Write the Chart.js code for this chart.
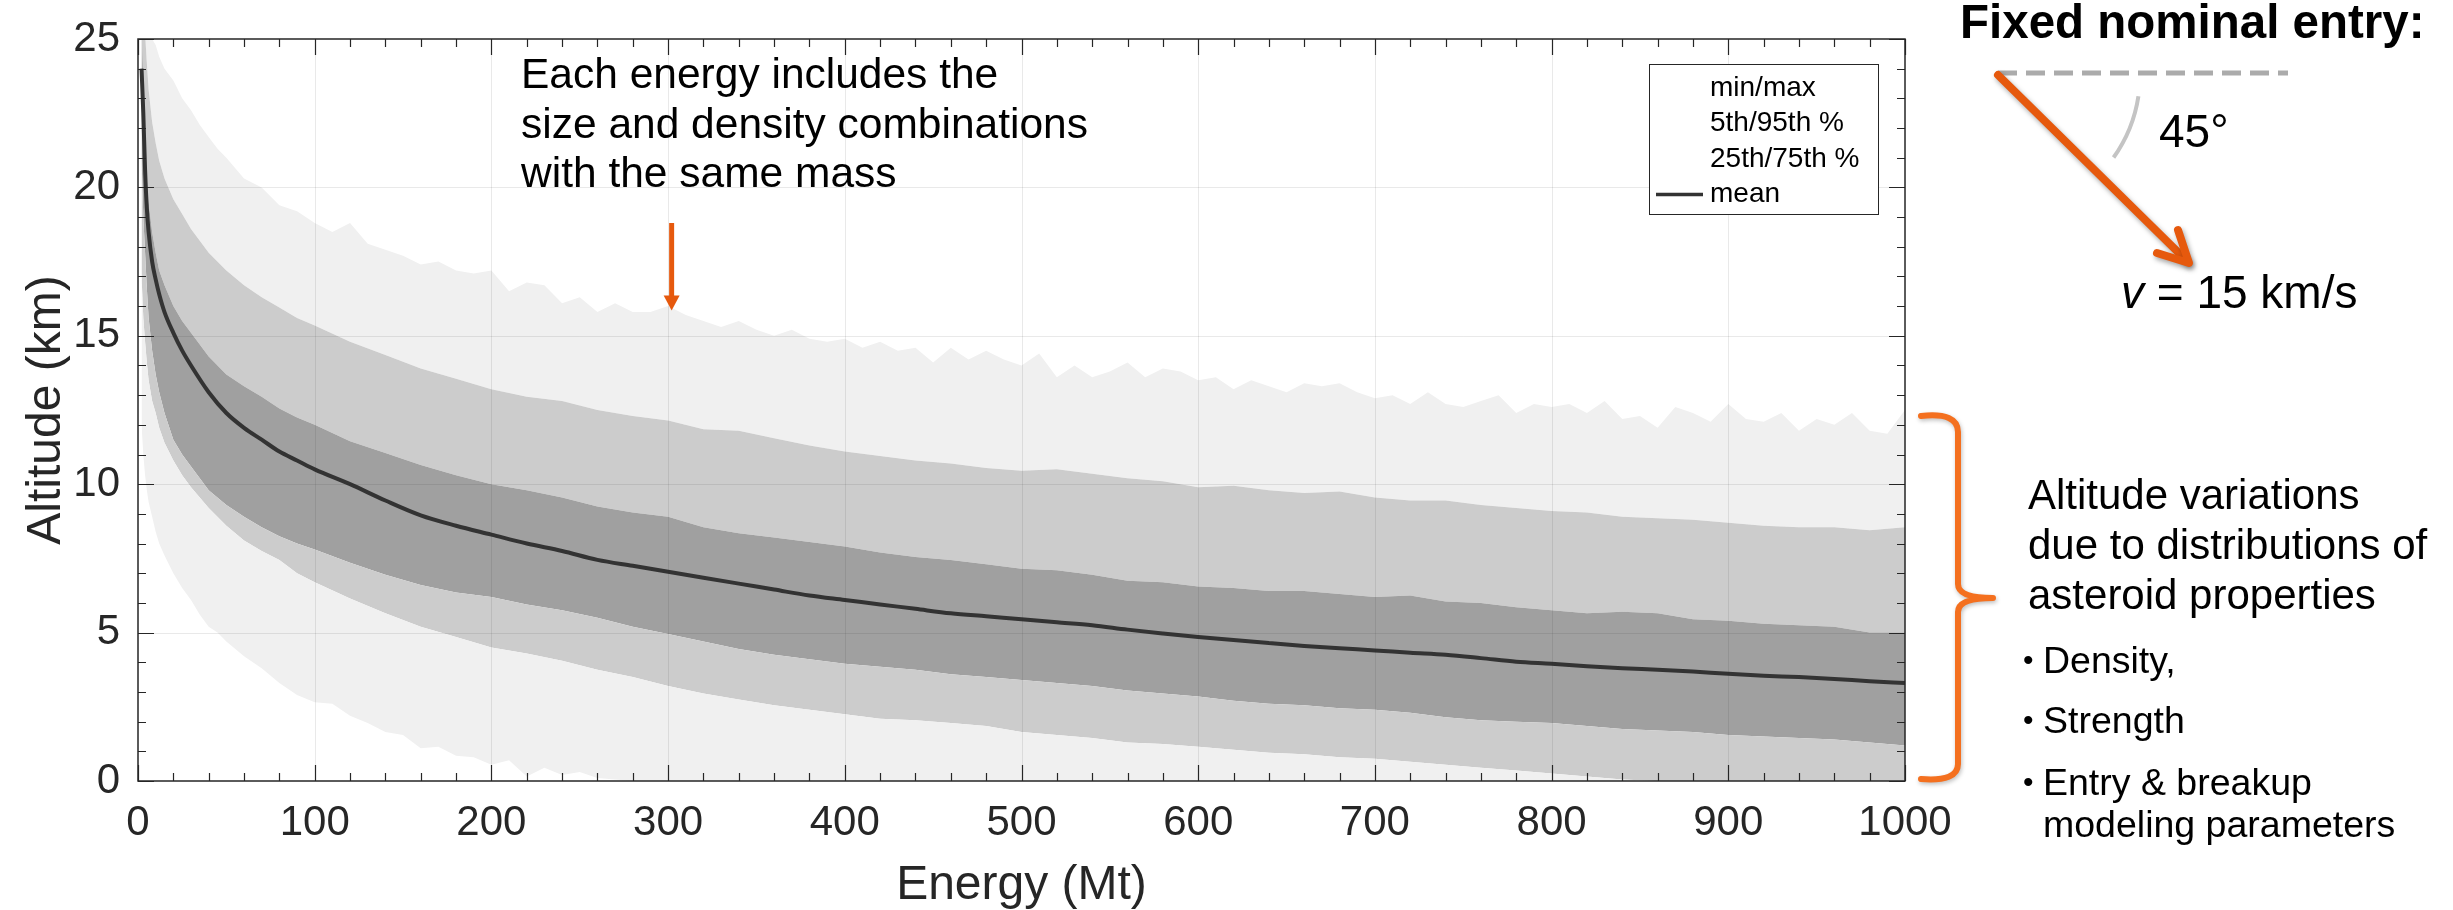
<!DOCTYPE html>
<html>
<head>
<meta charset="utf-8">
<script src="https://cdn.jsdelivr.net/npm/chart.js@4.4.1/dist/chart.umd.min.js"></script>
<style>
  html, body { margin: 0; padding: 0; background: #fff; }
</style>
</head>
<body>
<canvas id="chart" width="2453" height="910"></canvas>
<script>
// energies (Mt) for the jagged min / max envelope
const energyFine = [
  2, 3, 4, 5, 6, 8, 10, 12, 15, 20,
  25, 30, 35, 40, 45, 50, 60, 70, 80, 90,
  100, 110, 120, 130, 140, 150, 160, 170, 180, 190,
  200, 210, 220, 230, 240, 250, 260, 270, 280, 290,
  300, 310, 320, 330, 340, 350, 360, 370, 380, 390,
  400, 410, 420, 430, 440, 450, 460, 470, 480, 490,
  500, 510, 520, 530, 540, 550, 560, 570, 580, 590,
  600, 610, 620, 630, 640, 650, 660, 670, 680, 690,
  700, 710, 720, 730, 740, 750, 760, 770, 780, 790,
  800, 810, 820, 830, 840, 850, 860, 870, 880, 890,
  900, 910, 920, 930, 940, 950, 960, 970, 980, 990,
  1000,
];
const maxAlt = [
  30, 29, 27, 25.6, 25.3, 25.0, 24.8, 24.4, 24.0, 23.6,
  23.0, 22.6, 22.1, 21.7, 21.3, 21.0, 20.3, 20.0, 19.4, 19.2,
  18.8, 18.5, 18.8, 18.1, 17.9, 17.7, 17.4, 17.5, 17.2, 17.1,
  17.2, 16.5, 16.8, 16.7, 16.1, 16.3, 15.8, 16.1, 15.8, 15.8,
  16.0, 15.7, 15.5, 15.3, 15.5, 15.2, 15.0, 15.2, 14.9, 14.8,
  14.9, 14.6, 14.8, 14.5, 14.6, 14.1, 14.6, 14.2, 14.5, 14.2,
  14.0, 14.4, 13.6, 14.0, 13.6, 13.8, 14.1, 13.6, 13.9, 13.8,
  13.5, 13.6, 13.2, 13.5, 13.3, 13.1, 13.4, 13.3, 13.4, 13.1,
  12.9, 13.0, 12.7, 13.1, 12.7, 12.6, 12.8, 13.0, 12.4, 12.7,
  12.6, 12.7, 12.4, 12.8, 12.2, 12.3, 11.9, 12.6, 12.4, 12.1,
  12.7, 12.2, 12.1, 12.4, 11.8, 12.2, 12.0, 12.4, 11.8, 11.7,
  12.5,
];
const minAlt = [
  12.0, 11.0, 10.3, 9.8, 9.4, 8.9, 8.4, 8.0, 7.6, 7.0,
  6.5, 6.1, 5.6, 5.2, 5.0, 4.7, 4.2, 3.8, 3.3, 2.9,
  2.65, 2.6, 2.2, 1.95, 1.65, 1.55, 1.1, 1.15, 0.85, 0.8,
  0.55, 0.7, 0.15, 0.45, 0.2, 0.3, 0.1, 0.05, 0, 0,
  0, 0, 0, 0, 0, 0, 0, 0, 0, 0,
  0, 0, 0, 0, 0, 0, 0, 0, 0, 0,
  0, 0, 0, 0, 0, 0, 0, 0, 0, 0,
  0, 0, 0, 0, 0, 0, 0, 0, 0, 0,
  0, 0, 0, 0, 0, 0, 0, 0, 0, 0,
  0, 0, 0, 0, 0, 0, 0, 0, 0, 0,
  0, 0, 0, 0, 0, 0, 0, 0, 0, 0,
  0,
];

// energies (Mt) for the smoother percentile curves and the mean
const energyCoarse = [
  2, 3, 4, 5, 6, 8, 10, 12, 15, 20,
  25, 30, 40, 50, 60, 70, 80, 90, 100, 120,
  140, 160, 180, 200, 220, 240, 260, 280, 300, 320,
  340, 360, 380, 400, 420, 440, 460, 480, 500, 520,
  540, 560, 580, 600, 620, 640, 660, 680, 700, 720,
  740, 760, 780, 800, 820, 840, 860, 880, 900, 920,
  940, 960, 980, 1000,
];
const p95Alt = [
  27, 26, 25.2, 24.2, 23.3, 22.2, 21.5, 20.9, 20.3, 19.6,
  19.1, 18.6, 17.8, 17.2, 16.7, 16.3, 15.95, 15.6, 15.35, 14.8,
  14.35, 13.9, 13.55, 13.2, 12.95, 12.8, 12.5, 12.3, 12.15, 11.85,
  11.8, 11.55, 11.3, 11.1, 10.95, 10.8, 10.7, 10.55, 10.45, 10.5,
  10.35, 10.2, 10.1, 9.9, 9.95, 9.8, 9.7, 9.75, 9.55, 9.45,
  9.45, 9.3, 9.2, 9.1, 9.05, 8.9, 8.85, 8.8, 8.7, 8.6,
  8.55, 8.55, 8.45, 8.55,
];
const p75Alt = [
  25.5, 23.5, 21.5, 20.3, 19.5, 18.5, 17.8, 17.2, 16.7, 16.0,
  15.5, 15.1, 14.3, 13.7, 13.3, 12.95, 12.55, 12.25, 12.0, 11.45,
  11.05, 10.65, 10.3, 10.0, 9.8, 9.55, 9.25, 9.05, 8.9, 8.55,
  8.35, 8.2, 8.05, 7.9, 7.7, 7.55, 7.45, 7.3, 7.15, 7.1,
  6.95, 6.75, 6.7, 6.55, 6.5, 6.4, 6.4, 6.3, 6.2, 6.25,
  6.05, 6.0, 5.85, 5.75, 5.65, 5.7, 5.65, 5.45, 5.4, 5.3,
  5.25, 5.2, 5.0, 5.0,
];
const meanAlt = [
  24.0, 22.5, 20.6, 19.3, 18.5, 17.5, 16.9, 16.4, 15.8, 15.1,
  14.5, 14.0, 13.1, 12.4, 11.9, 11.5, 11.1, 10.8, 10.5, 10.0,
  9.45, 8.95, 8.6, 8.3, 8.0, 7.75, 7.45, 7.25, 7.05, 6.85,
  6.65, 6.45, 6.25, 6.1, 5.95, 5.8, 5.65, 5.55, 5.45, 5.35,
  5.25, 5.1, 4.97, 4.85, 4.75, 4.65, 4.55, 4.47, 4.4, 4.32,
  4.25, 4.14, 4.02, 3.95, 3.87, 3.8, 3.75, 3.69, 3.61, 3.55,
  3.5, 3.44, 3.36, 3.3,
];
const p25Alt = [
  21.0, 19.0, 17.8, 16.6, 15.6, 14.5, 13.7, 13.1, 12.4, 11.5,
  11.0, 10.6, 9.8, 9.3, 8.9, 8.55, 8.25, 8.0, 7.8, 7.35,
  6.95, 6.6, 6.35, 6.2, 5.95, 5.75, 5.5, 5.2, 4.95, 4.7,
  4.45, 4.25, 4.1, 3.95, 3.85, 3.75, 3.6, 3.5, 3.4, 3.3,
  3.2, 3.05, 2.95, 2.85, 2.7, 2.6, 2.55, 2.45, 2.4, 2.3,
  2.15, 2.05, 2.0, 1.95, 1.85, 1.75, 1.7, 1.65, 1.55, 1.5,
  1.45, 1.4, 1.3, 1.2,
];
const p5Alt = [
  17.0, 15.6, 14.8, 14.1, 13.5, 12.8, 12.4, 11.9, 11.4, 10.8,
  10.3, 9.9, 9.2, 8.6, 8.1, 7.75, 7.45, 7.0, 6.7, 6.15,
  5.65, 5.2, 4.85, 4.5, 4.3, 4.05, 3.75, 3.5, 3.2, 2.95,
  2.75, 2.55, 2.4, 2.25, 2.1, 2.05, 1.95, 1.85, 1.65, 1.55,
  1.45, 1.3, 1.25, 1.15, 1.05, 0.95, 0.9, 0.8, 0.75, 0.65,
  0.55, 0.45, 0.35, 0.25, 0.15, 0.05, 0, 0, 0, 0,
  0, 0, 0, 0,
];

const legendLabels = ['min/max', '5th/95th %', '25th/75th %', 'mean'];
const noteLines = ['Each energy includes the', 'size and density combinations', 'with the same mass'];
const noteEnergy = 302;
const entryTitle = 'Fixed nominal entry:';
const angleLabel = '45°';
const speedVar = 'v';
const speedText = ' = 15 km/s';
const spreadLines = ['Altitude variations', 'due to distributions of', 'asteroid properties'];
const factorLines = ['Density,', 'Strength', 'Entry & breakup', 'modeling parameters'];

const FONT = '"Liberation Sans", Arial, Helvetica, sans-serif';
const INK = '#262626';
const ORANGE = '#e6590d';
const BRACE = '#f4701f';

const pts = (xs, ys) => xs.map((x, i) => ({ x, y: ys[i] }));

const band = (label, xs, ys, color) => ({
  label,
  data: pts(xs, ys),
  borderColor: 'transparent',
  borderWidth: 0,
  backgroundColor: color,
  fill: '-1',
  pointRadius: 0,
  tension: 0,
});

// grid on top of the bands, MATLAB style box and inward ticks
const axisFrame = {
  id: 'axisFrame',
  afterDatasetsDraw: chart => {
    const { ctx, chartArea: a, scales: { x, y } } = chart;
    ctx.save();
    ctx.lineWidth = 1;
    ctx.strokeStyle = 'rgba(38, 38, 38, 0.1)';
    ctx.beginPath();
    for (let v = 100; v < 1000; v += 100) {
      const px = Math.round(x.getPixelForValue(v)) + 0.5;
      ctx.moveTo(px, a.top);
      ctx.lineTo(px, a.bottom);
    }
    for (let v = 5; v < 25; v += 5) {
      const py = Math.round(y.getPixelForValue(v)) + 0.5;
      ctx.moveTo(a.left, py);
      ctx.lineTo(a.right, py);
    }
    ctx.stroke();

    ctx.strokeStyle = INK;
    ctx.lineWidth = 1.2;
    ctx.beginPath();
    for (let v = 0; v <= 1000; v += 20) {
      const px = Math.round(x.getPixelForValue(v)) + 0.5;
      const len = v % 100 === 0 ? 16 : 8;
      ctx.moveTo(px, a.bottom);
      ctx.lineTo(px, a.bottom - len);
      ctx.moveTo(px, a.top);
      ctx.lineTo(px, a.top + len);
    }
    for (let v = 0; v <= 25; v += 1) {
      const py = Math.round(y.getPixelForValue(v)) + 0.5;
      const len = v % 5 === 0 ? 16 : 8;
      ctx.moveTo(a.left, py);
      ctx.lineTo(a.left + len, py);
      ctx.moveTo(a.right, py);
      ctx.lineTo(a.right - len, py);
    }
    ctx.stroke();
    ctx.lineWidth = 1.5;
    ctx.strokeRect(a.left, a.top, a.right - a.left, a.bottom - a.top);
    ctx.restore();
  },
};

// legend box and the slide annotations
const notes = {
  id: 'notes',
  afterDraw: chart => {
    const { ctx, chartArea: a, scales: { x, y } } = chart;
    ctx.save();

    // legend inside the axes
    const lx = a.right - 256, ly = a.top + 25, lw = 229, lh = 150;
    ctx.fillStyle = '#fff';
    ctx.fillRect(lx, ly, lw, lh);
    ctx.strokeStyle = INK;
    ctx.lineWidth = 1;
    ctx.strokeRect(lx + 0.5, ly + 0.5, lw, lh);
    ctx.font = `28px ${FONT}`;
    ctx.fillStyle = '#000';
    ctx.textBaseline = 'middle';
    legendLabels.forEach((t, i) => ctx.fillText(t, lx + 61, ly + 24 + i * 35.5));
    ctx.strokeStyle = '#333';
    ctx.lineWidth = 3.5;
    ctx.beginPath();
    ctx.moveTo(lx + 7, ly + 24 + 3 * 35.5);
    ctx.lineTo(lx + 54, ly + 24 + 3 * 35.5);
    ctx.stroke();

    // note about energy
    ctx.textBaseline = 'alphabetic';
    ctx.font = `42.5px ${FONT}`;
    ctx.fillStyle = '#000';
    noteLines.forEach((t, i) => ctx.fillText(t, 521, 88 + i * 49.5));
    const ax = x.getPixelForValue(noteEnergy);
    const tail = y.getPixelForValue(18.8);
    const tip = y.getPixelForValue(15.85);
    ctx.strokeStyle = ORANGE;
    ctx.fillStyle = ORANGE;
    ctx.lineWidth = 5;
    ctx.beginPath();
    ctx.moveTo(ax, tail);
    ctx.lineTo(ax, tip - 12);
    ctx.stroke();
    ctx.beginPath();
    ctx.moveTo(ax - 8, tip - 15);
    ctx.lineTo(ax + 8, tip - 15);
    ctx.lineTo(ax, tip);
    ctx.closePath();
    ctx.fill();

    // fixed nominal entry sketch
    ctx.fillStyle = '#000';
    ctx.font = `bold 47.5px ${FONT}`;
    ctx.fillText(entryTitle, 1960, 38);
    ctx.strokeStyle = '#ababab';
    ctx.lineWidth = 5;
    ctx.setLineDash([19, 9]);
    ctx.beginPath();
    ctx.moveTo(1998, 73);
    ctx.lineTo(2288, 73);
    ctx.stroke();
    ctx.setLineDash([]);
    ctx.strokeStyle = '#c4c4c4';
    ctx.lineWidth = 4;
    ctx.beginPath();
    ctx.arc(1998, 75, 142, 0.15, 0.62);
    ctx.stroke();
    ctx.font = `46px ${FONT}`;
    ctx.fillText(angleLabel, 2159, 147);

    ctx.save();
    ctx.shadowColor = 'rgba(0, 0, 0, 0.35)';
    ctx.shadowBlur = 5;
    ctx.shadowOffsetX = 2;
    ctx.shadowOffsetY = 3;
    ctx.strokeStyle = ORANGE;
    ctx.lineWidth = 8;
    ctx.lineCap = 'round';
    ctx.lineJoin = 'round';
    ctx.beginPath();
    ctx.moveTo(1998, 75);
    ctx.lineTo(2187, 261);
    ctx.stroke();
    ctx.beginPath();
    ctx.moveTo(2157, 253);
    ctx.lineTo(2189, 263);
    ctx.lineTo(2178, 230);
    ctx.stroke();
    ctx.restore();

    ctx.fillStyle = '#000';
    ctx.font = `italic 46px ${FONT}`;
    ctx.fillText(speedVar, 2121, 308);
    const vw = ctx.measureText(speedVar).width;
    ctx.font = `46px ${FONT}`;
    ctx.fillText(speedText, 2121 + vw, 308);

    // brace on the right
    ctx.save();
    ctx.shadowColor = 'rgba(0, 0, 0, 0.25)';
    ctx.shadowBlur = 4;
    ctx.shadowOffsetX = 1;
    ctx.shadowOffsetY = 2;
    ctx.strokeStyle = BRACE;
    ctx.lineWidth = 6;
    ctx.lineCap = 'round';
    ctx.beginPath();
    ctx.moveTo(1921, 416);
    ctx.quadraticCurveTo(1958, 412, 1958, 432);
    ctx.lineTo(1958, 584);
    ctx.quadraticCurveTo(1958, 598, 1993, 598);
    ctx.moveTo(1993, 598);
    ctx.quadraticCurveTo(1958, 598, 1958, 612);
    ctx.lineTo(1958, 764);
    ctx.quadraticCurveTo(1958, 782, 1921, 779);
    ctx.stroke();
    ctx.restore();

    ctx.fillStyle = '#000';
    ctx.font = `42px ${FONT}`;
    spreadLines.forEach((t, i) => ctx.fillText(t, 2028, 509 + i * 50));
    const bulletY = [673, 733, 795, 837];
    factorLines.forEach((t, i) => {
      if (i !== 3) {
        ctx.font = `30px ${FONT}`;
        ctx.fillText('•', 2023, bulletY[i] - 3);
      }
      ctx.font = `37.5px ${FONT}`;
      ctx.fillText(t, 2043, bulletY[i]);
    });

    ctx.restore();
  },
};

new Chart(document.getElementById('chart'), {
  type: 'line',
  data: {
    datasets: [
      {
        label: 'mean',
        data: pts(energyCoarse, meanAlt),
        borderColor: '#333333',
        borderWidth: 4,
        pointRadius: 0,
        fill: false,
        cubicInterpolationMode: 'monotone',
      },
      {
        label: 'min',
        data: pts(energyFine, minAlt),
        borderColor: 'transparent',
        borderWidth: 0,
        pointRadius: 0,
        fill: false,
        tension: 0,
      },
      band('5th', energyCoarse, p5Alt, '#f0f0f0'),
      band('25th', energyCoarse, p25Alt, '#cccccc'),
      band('75th', energyCoarse, p75Alt, '#a0a0a0'),
      band('95th', energyCoarse, p95Alt, '#cccccc'),
      band('max', energyFine, maxAlt, '#f0f0f0'),
    ],
  },
  options: {
    responsive: false,
    animation: false,
    devicePixelRatio: 1,
    layout: { padding: { top: 23, right: 548, bottom: 0, left: 0 } },
    plugins: {
      legend: { display: false },
      tooltip: { enabled: false },
    },
    scales: {
      x: {
        type: 'linear',
        min: 0,
        max: 1000,
        grid: { display: false, drawTicks: false },
        border: { display: false },
        ticks: {
          stepSize: 100,
          maxRotation: 0,
          autoSkip: false,
          padding: 21,
          color: INK,
          font: { family: FONT, size: 42, lineHeight: 1 },
          callback: v => String(v),
        },
        title: {
          display: true,
          text: 'Energy (Mt)',
          color: INK,
          font: { family: FONT, size: 48, lineHeight: 1 },
          padding: { top: 0, bottom: 0 },
        },
        afterFit: scale => { scale.height = 129; },
      },
      y: {
        min: 0,
        max: 25,
        grid: { display: false, drawTicks: false },
        border: { display: false },
        ticks: {
          stepSize: 5,
          padding: 18,
          color: INK,
          font: { family: FONT, size: 42, lineHeight: 1 },
          callback: v => String(v),
        },
        title: {
          display: true,
          text: 'Altitude (km)',
          color: INK,
          font: { family: FONT, size: 48, lineHeight: 1 },
          padding: { top: 23, bottom: 0 },
        },
        afterFit: scale => { scale.width = 138; },
      },
    },
  },
  plugins: [axisFrame, notes],
});
</script>
</body>
</html>
